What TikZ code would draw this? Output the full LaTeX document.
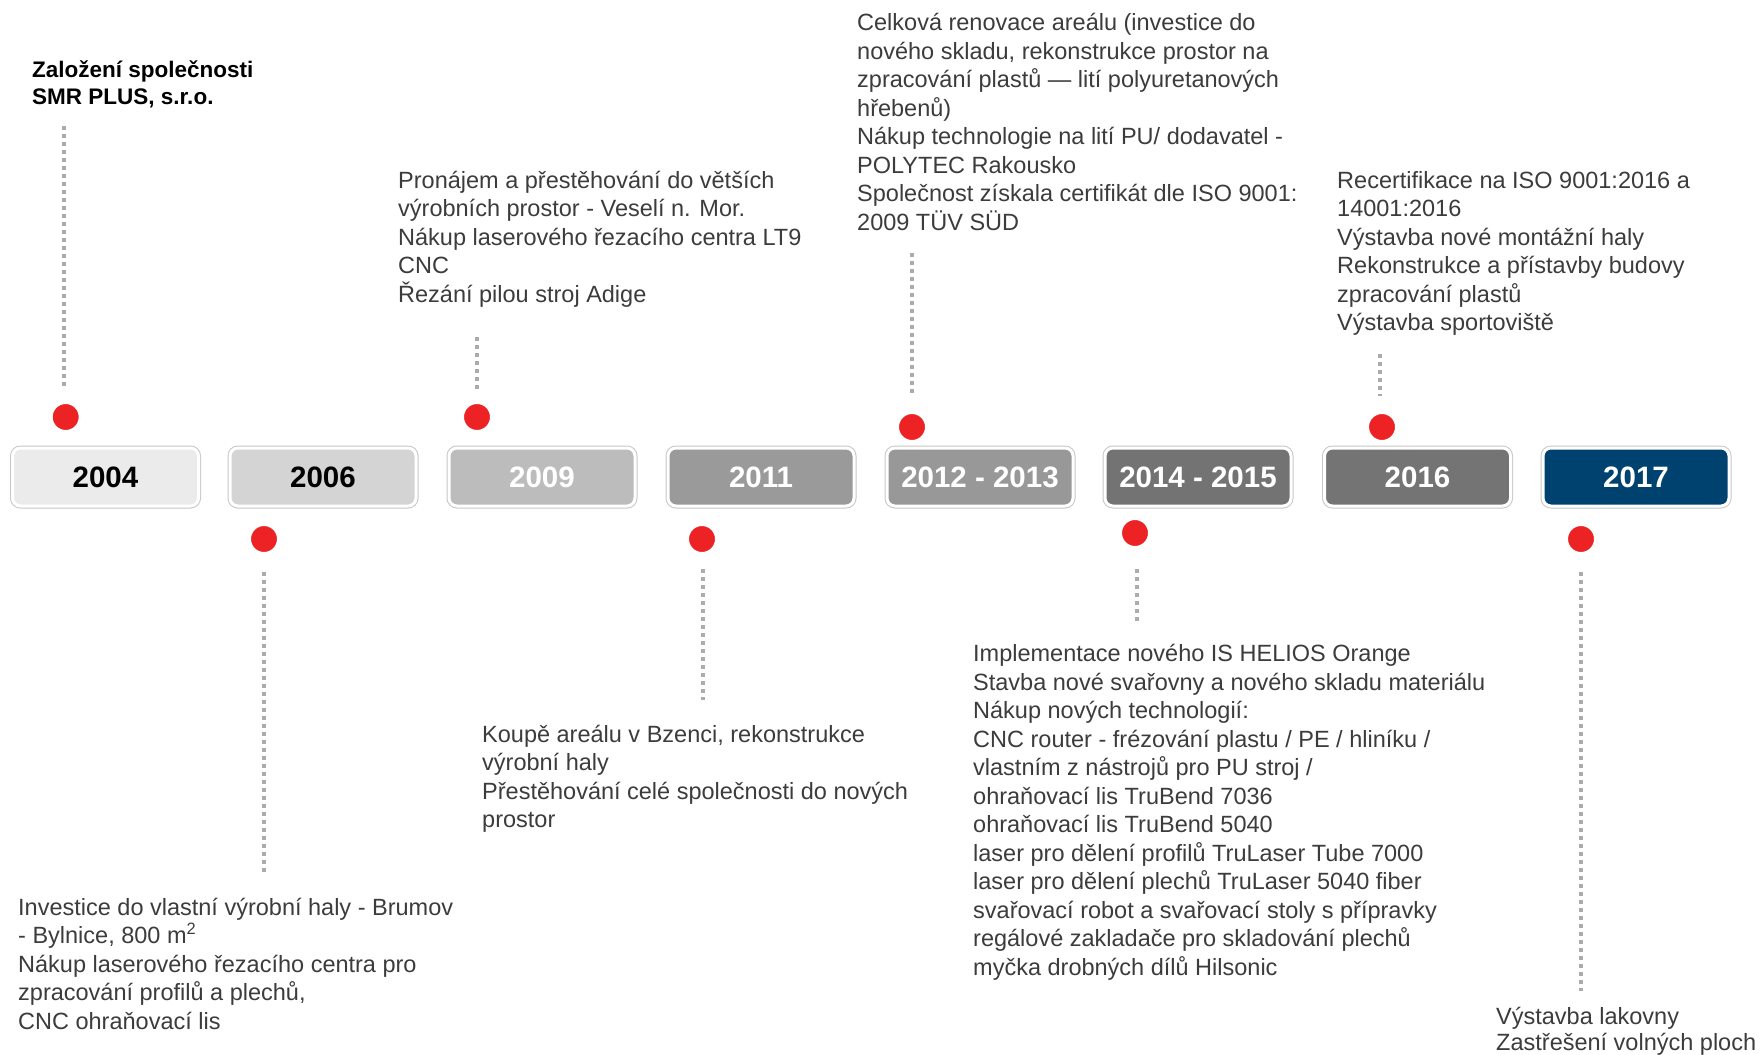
\documentclass[tikz,border=0pt]{standalone}
\usepackage{fontspec}
\setmainfont{Liberation Sans}
\usetikzlibrary{backgrounds,calc}
\definecolor{dotred}{HTML}{EC2224}
\definecolor{guidegray}{HTML}{ABABAB}
\definecolor{bodytxt}{HTML}{3C3C3C}
\definecolor{cA}{HTML}{EBEBEB}
\definecolor{cB}{HTML}{D4D4D4}
\definecolor{cC}{HTML}{BCBCBC}
\definecolor{cD}{HTML}{9A9A9A}
\definecolor{cE}{HTML}{989898}
\definecolor{cF}{HTML}{737373}
\definecolor{cG}{HTML}{747474}
\definecolor{cH}{HTML}{00426F}
\newcommand\mlines[1]{\vtop{\halign{##\hfil\cr#1\crcr}}}
\tikzset{
  yearbox/.style={rounded corners=8pt, minimum width=186pt, minimum height=58pt,
    inner sep=0pt, line width=3pt, draw=white,
    preaction={draw=black!22, line width=5pt},
    font=\fontsize{29.5}{30}\selectfont\bfseries},
  reddot/.style={circle, fill=dotred, draw=white, line width=3pt,
    minimum size=29pt, inner sep=0pt},
  guide/.style={draw=guidegray, line width=3.5pt, dash pattern=on 3.5pt off 4.5pt},
  bodytext/.style={anchor=base west, inner sep=0pt, text=bodytxt,
    font=\fontsize{23.5}{28.5}\selectfont},
  headtext/.style={anchor=base west, inner sep=0pt, text=black,
    font=\fontsize{22.5}{27.5}\selectfont\bfseries},
}
\begin{document}
\begin{tikzpicture}[x=1pt,y=-1pt]
\useasboundingbox[fill=white] (0,0) rectangle (1760,1054);

% year boxes
\node[yearbox, fill=cA, text=black] (y04)   at (105.5,477) {2004};
\node[yearbox, fill=cB, text=black] (y06)   at (323,477)   {2006};
\node[yearbox, fill=cC, text=white] (y09)   at (542,477)   {2009};
\node[yearbox, fill=cD, text=white] (y11)   at (761,477)   {2011};
\node[yearbox, fill=cE, text=white] (y1213) at (980,477)   {2012 - 2013};
\node[yearbox, fill=cF, text=white] (y1415) at (1198,477)  {2014 - 2015};
\node[yearbox, fill=cG, text=white] (y16)   at (1417.5,477){2016};
\node[yearbox, fill=cH, text=white] (y17)   at (1636,477)  {2017};

% soft shadows behind boxes
\begin{scope}[on background layer]
\foreach \b in {y04,y06,y09,y11,y1213,y1415,y16,y17}{
  \foreach \e in {-2,...,14}{
    \fill[black, opacity=0.035, rounded corners=10pt]
      ($(\b.north west)+(4-\e,10-\e)$) rectangle ($(\b.south east)+(4+\e,10+\e)$);
  }
}
\end{scope}

% red dots
\node[reddot] (d04)   at (65.7,417) {};
\node[reddot] (d06)   at (264,539)  {};
\node[reddot] (d09)   at (477,417)  {};
\node[reddot] (d11)   at (702,539)  {};
\node[reddot] (d1213) at (912,427)  {};
\node[reddot] (d1415) at (1135,533) {};
\node[reddot] (d16)   at (1382,427) {};
\node[reddot] (d17)   at (1581,539) {};

% guide line ends
\coordinate (g04a) at (64,126);    \coordinate (g04b) at (64,390);
\coordinate (g06a) at (264,572);   \coordinate (g06b) at (264,875);
\coordinate (g09a) at (477,337);   \coordinate (g09b) at (477,389);
\coordinate (g11a) at (703,569);   \coordinate (g11b) at (703,700);
\coordinate (g1213a) at (912,253); \coordinate (g1213b) at (912,396);
\coordinate (g1415a) at (1137,569);\coordinate (g1415b) at (1137,621);
\coordinate (g16a) at (1380,354);  \coordinate (g16b) at (1380,396);
\coordinate (g17a) at (1581,572);  \coordinate (g17b) at (1581,991);

\draw[guide] (g04a) -- (g04b);
\draw[guide] (g06a) -- (g06b);
\draw[guide] (g09a) -- (g09b);
\draw[guide] (g11a) -- (g11b);
\draw[guide] (g1213a) -- (g1213b);
\draw[guide] (g1415a) -- (g1415b);
\draw[guide] (g16a) -- (g16b);
\draw[guide] (g17a) -- (g17b);

% texts
\node[headtext] (t04) at (32,77.5) {\mlines{Založení společnosti\cr SMR PLUS, s.r.o.}};

\node[bodytext] (t06) at (18,915) {\mlines{Investice do vlastní výrobní haly - Brumov\cr
- Bylnice, 800 m\textsuperscript{2}\cr
Nákup laserového řezacího centra pro\cr
zpracování profilů a plechů,\cr
CNC ohraňovací lis}};

\node[bodytext] (t09) at (398,188) {\mlines{Pronájem a přestěhování do větších\cr
výrobních prostor - Veselí n. Mor.\cr
Nákup laserového řezacího centra LT9\cr
CNC\cr
Řezání pilou stroj Adige}};

\node[bodytext] (t11) at (482,742) {\mlines{Koupě areálu v Bzenci, rekonstrukce\cr
výrobní haly\cr
Přestěhování celé společnosti do nových\cr
prostor}};

\node[bodytext] (t1213) at (857,31) {\mlines{Celková renovace areálu (investice do\cr
nového skladu, rekonstrukce prostor na\cr
zpracování plastů — lití polyuretanových\cr
hřebenů)\cr
Nákup technologie na lití PU/ dodavatel -\cr
POLYTEC Rakousko\cr
Společnost získala certifikát dle ISO 9001:\cr
2009 TÜV SÜD}};

\node[bodytext] (t1415) at (973,661.7) {\mlines{Implementace nového IS HELIOS Orange\cr
Stavba nové svařovny a nového skladu materiálu\cr
Nákup nových technologií:\cr
CNC router - frézování plastu / PE / hliníku /\cr
vlastním z nástrojů pro PU stroj /\cr
ohraňovací lis TruBend 7036\cr
ohraňovací lis TruBend 5040\cr
laser pro dělení profilů TruLaser Tube 7000\cr
laser pro dělení plechů TruLaser 5040 fiber\cr
svařovací robot a svařovací stoly s přípravky\cr
regálové zakladače pro skladování plechů\cr
myčka drobných dílů Hilsonic}};

\node[bodytext] (t16) at (1337,188) {\mlines{Recertifikace na ISO 9001:2016 a\cr
14001:2016\cr
Výstavba nové montážní haly\cr
Rekonstrukce a přístavby budovy\cr
zpracování plastů\cr
Výstavba sportoviště}};

\node[bodytext, font=\fontsize{23.5}{26}\selectfont] (t17) at (1496,1024) {\mlines{Výstavba lakovny\cr
Zastřešení volných ploch}};
\end{tikzpicture}
\end{document}
